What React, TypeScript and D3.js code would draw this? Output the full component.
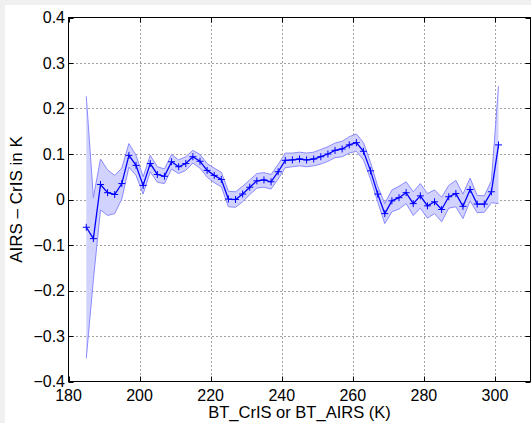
import React from "react";
import * as d3 from "d3";

// Brightness temperature bins (K)
const bins: number[] = [
  185, 187, 189, 191, 193, 195, 197, 199, 201, 203, 205, 207, 209, 211, 213, 215, 217, 219, 221, 223, 225, 227,
  229, 231, 233, 235, 237, 239, 241, 243, 245, 247, 249, 251, 253, 255, 257, 259, 261, 263, 265, 267, 269,
  271, 273, 275, 277, 279, 281, 283, 285, 287, 289, 291, 293, 295, 297, 299, 301,
];

// Mean AIRS - CrIS difference (K)
const meanDiff: number[] = [
  -0.061, -0.086, 0.033, 0.015, 0.011, 0.035, 0.097, 0.075, 0.031, 0.079, 0.055, 0.051, 0.083, 0.072, 0.079, 0.094, 0.084, 0.064, 0.053, 0.044, 0.001, 0.0,
  0.012, 0.027, 0.041, 0.043, 0.039, 0.061, 0.086, 0.087, 0.089, 0.087, 0.089, 0.094, 0.1, 0.108, 0.111, 0.12, 0.125, 0.106, 0.063, 0.012, -0.031,
  -0.003, 0.004, 0.015, -0.009, 0.008, -0.014, -0.005, -0.022, 0.006, 0.013, -0.015, 0.022, -0.01, -0.01, 0.017, 0.12,
];

// Uncertainty half-width (K)
const errDiff: number[] = [
  0.288, 0.09, 0.056, 0.05, 0.042, 0.034, 0.026, 0.022, 0.019, 0.018, 0.017, 0.016, 0.016, 0.015, 0.015, 0.014, 0.015, 0.015, 0.016, 0.016, 0.017, 0.017,
  0.017, 0.016, 0.016, 0.016, 0.016, 0.016, 0.016, 0.015, 0.015, 0.015, 0.015, 0.016, 0.016, 0.016, 0.017, 0.018, 0.019, 0.019, 0.018, 0.017, 0.022,
  0.024, 0.025, 0.024, 0.026, 0.027, 0.027, 0.026, 0.027, 0.025, 0.029, 0.027, 0.025, 0.019, 0.018, 0.024, 0.129,
];

const xTicks: number[] = [180, 200, 220, 240, 260, 280, 300];
const yTicks: number[] = [0.4, 0.3, 0.2, 0.1, 0, -0.1, -0.2, -0.3, -0.4];
const yTickLabels: string[] = ["0.4", "0.3", "0.2", "0.1", "0", "\u22120.1", "\u22120.2", "\u22120.3", "\u22120.4"];

const xLabel = "BT_CrIS or BT_AIRS (K)";
const yLabel = "AIRS \u2013 CrIS in K";

const W = 531;
const H = 423;
const FONT = "'Liberation Sans', Arial, Helvetica, sans-serif";

export default function App() {
  const x = d3.scaleLinear().domain([180, 310]).range([68.5, 530.5]);
  const y = d3.scaleLinear().domain([-0.4, 0.4]).range([381.5, 17.5]);
  const left = x(180);
  const right = x(310);
  const top = y(0.4);
  const bottom = y(-0.4);

  const rows = bins.map((b, i) => ({ b, m: meanDiff[i], e: errDiff[i] }));
  const area = d3
    .area<{ b: number; m: number; e: number }>()
    .x((d) => x(d.b))
    .y0((d) => y(d.m - d.e))
    .y1((d) => y(d.m + d.e));
  const upper = d3
    .line<{ b: number; m: number; e: number }>()
    .x((d) => x(d.b))
    .y((d) => y(d.m + d.e));
  const lower = d3
    .line<{ b: number; m: number; e: number }>()
    .x((d) => x(d.b))
    .y((d) => y(d.m - d.e));
  const mline = d3
    .line<{ b: number; m: number; e: number }>()
    .x((d) => x(d.b))
    .y((d) => y(d.m));

  const tickLen = 5;
  const ms = 3.5;

  return (
    <svg
      width={W}
      height={H}
      style={{ position: "absolute", left: 0, top: 0, display: "block" }}
      fontFamily={FONT}
    >
      <rect x={0} y={0} width={W} height={H} fill="#f0f0f0" />
      <rect x={5} y={5} width={W - 5} height={H - 5} fill="#ffffff" />

      {/* grid */}
      {xTicks
        .filter((t) => t !== 180)
        .map((t) => (
          <line
            key={"gx" + t}
            x1={Math.round(x(t)) + 0.5}
            x2={Math.round(x(t)) + 0.5}
            y1={top}
            y2={bottom}
            stroke="#444"
            strokeWidth={1}
            strokeDasharray="1 3"
          />
        ))}
      {yTicks
        .filter((t) => t !== 0.4 && t !== -0.4)
        .map((t) => (
          <line
            key={"gy" + t}
            x1={left}
            x2={right}
            y1={Math.round(y(t)) + 0.5}
            y2={Math.round(y(t)) + 0.5}
            stroke="#444"
            strokeWidth={1}
            strokeDasharray="1 3"
          />
        ))}

      {/* band */}
      <path d={area(rows) || ""} fill="#d2d2ff" stroke="none" />
      <path d={upper(rows) || ""} fill="none" stroke="#8a8aff" strokeWidth={1} />
      <path d={lower(rows) || ""} fill="none" stroke="#8a8aff" strokeWidth={1} />

      {/* mean line */}
      <path d={mline(rows) || ""} fill="none" stroke="#0000ff" strokeWidth={1.3} />
      {rows.map((d, i) => (
        <g key={"m" + i} stroke="#0000ff" strokeWidth={1}>
          <line x1={x(d.b) - ms} x2={x(d.b) + ms} y1={y(d.m)} y2={y(d.m)} />
          <line x1={x(d.b)} x2={x(d.b)} y1={y(d.m) - ms} y2={y(d.m) + ms} />
        </g>
      ))}

      {/* axes box */}
      <rect x={left} y={top} width={right - left} height={bottom - top} fill="none" stroke="#000" strokeWidth={1} />

      {/* ticks */}
      {xTicks.map((t) => (
        <g key={"tx" + t} stroke="#000" strokeWidth={1}>
          <line x1={Math.round(x(t)) + 0.5} x2={Math.round(x(t)) + 0.5} y1={bottom} y2={bottom - tickLen} />
          <line x1={Math.round(x(t)) + 0.5} x2={Math.round(x(t)) + 0.5} y1={top} y2={top + tickLen} />
        </g>
      ))}
      {yTicks.map((t) => (
        <g key={"ty" + t} stroke="#000" strokeWidth={1}>
          <line x1={left} x2={left + tickLen} y1={Math.round(y(t)) + 0.5} y2={Math.round(y(t)) + 0.5} />
          <line x1={right} x2={right - tickLen} y1={Math.round(y(t)) + 0.5} y2={Math.round(y(t)) + 0.5} />
        </g>
      ))}

      {/* tick labels */}
      {xTicks.map((t) => (
        <text key={"lx" + t} x={x(t)} y={400.5} fontSize={16} textAnchor="middle" fill="#000">
          {t}
        </text>
      ))}
      {yTicks.map((t, i) => (
        <text
          key={"ly" + t}
          x={65}
          y={y(t) + 5.5}
          fontSize={16}
          textAnchor="end"
          fill="#000"
        >
          {yTickLabels[i]}
        </text>
      ))}

      {/* axis labels */}
      <text x={(left + right) / 2} y={417.5} fontSize={16.5} textAnchor="middle" fill="#000">
        {xLabel}
      </text>
      <text
        transform={`translate(22,${(top + bottom) / 2}) rotate(-90)`}
        fontSize={17}
        textAnchor="middle"
        fill="#000"
      >
        {yLabel}
      </text>
    </svg>
  );
}
